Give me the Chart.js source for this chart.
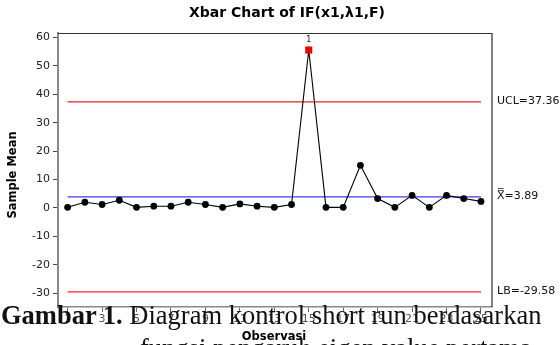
<!DOCTYPE html>
<html>
<head>
<meta charset="utf-8">
<script src="https://cdn.jsdelivr.net/npm/chart.js@4.4.1/dist/chart.umd.min.js"></script>
<style>
  html, body { margin: 0; padding: 0; background: #fff; }
  #wrap { position: relative; width: 560px; height: 345px; overflow: hidden; }
  canvas { position: absolute; left: 0; top: 0; }
  .cap { position: absolute; font-family: "Liberation Serif", "Times New Roman", serif; font-size: 26.5px; line-height: 1; color: #111; white-space: nowrap; }
</style>
</head>
<body>
<div id="wrap">
  <canvas id="myChart" width="560" height="345"></canvas>
  <div class="cap" id="cap1" style="left:1px; top:302px;"><b>Gambar 1.</b> Diagram kontrol short run berdasarkan</div>
  <div class="cap" id="cap2" style="left:140px; top:334.5px;">fungsi pengaruh eigen value pertama</div>
</div>
<script>
// dados
var observasi = [1, 2, 3, 4, 5, 6, 7, 8, 9, 10, 11, 12, 13, 14, 15, 16, 17, 18, 19, 20, 21, 22, 23, 24, 25];
var sample_mean = [0.2, 2.0, 1.2, 2.7, 0.2, 0.6, 0.6, 2.0, 1.2, 0.2, 1.4, 0.6, 0.2, 1.2, 55.6, 0.2, 0.2, 15.0, 3.3, 0.2, 4.4, 0.2, 4.4, 3.3, 2.3];
var limites_nomes = ['UCL', 'X\u033F', 'LB'];
var limites_valores = [37.36, 3.89, -29.58];
var limites_cores = ['#e8222a', '#3a3af0', '#f0262e'];
var fora_controle = [15];
var y_ticks = [-30, -20, -10, 0, 10, 20, 30, 40, 50, 60];
var x_ticks = [1, 3, 5, 7, 9, 11, 13, 15, 17, 19, 21, 23, 25];

document.addEventListener("DOMContentLoaded", function () {

    var pontos = observasi.map(function (x, i) { return { x: x, y: sample_mean[i] }; });
    var estilos = observasi.map(function (x) { return fora_controle.indexOf(x) >= 0 ? 'rect' : 'circle'; });
    var raios = observasi.map(function (x) { return fora_controle.indexOf(x) >= 0 ? 5 : 3.4; });
    var cores = observasi.map(function (x) { return fora_controle.indexOf(x) >= 0 ? '#f00000' : '#000'; });

    var datasets = [{
        data: pontos,
        borderColor: '#000',
        borderWidth: 1.1,
        pointStyle: estilos,
        pointRadius: raios,
        pointBackgroundColor: cores,
        pointBorderColor: cores,
        pointBorderWidth: 0,
        tension: 0
    }];
    limites_valores.forEach(function (v, i) {
        datasets.push({
            data: [{ x: observasi[0], y: v }, { x: observasi[observasi.length - 1], y: v }],
            borderColor: limites_cores[i],
            borderWidth: 1.2,
            pointRadius: 0
        });
    });

    var textos = {
        id: 'textos',
        afterDraw: function (chart) {
            var ctx = chart.ctx;
            var a = chart.chartArea;
            var xs = chart.scales.x, ys = chart.scales.y;
            ctx.save();
            // moldura superior e direita
            ctx.strokeStyle = '#333';
            ctx.lineWidth = 1;
            ctx.beginPath();
            ctx.moveTo(a.left, a.top + 0.5);
            ctx.lineTo(a.right, a.top + 0.5);
            ctx.stroke();
            ctx.strokeStyle = '#555';
            ctx.lineWidth = 1.5;
            ctx.beginPath();
            ctx.moveTo(a.right, a.top);
            ctx.lineTo(a.right, a.bottom);
            ctx.stroke();

            ctx.fillStyle = '#000';
            ctx.font = 'bold 14px "DejaVu Sans"';
            ctx.textAlign = 'center';
            ctx.textBaseline = 'middle';
            ctx.fillText('Xbar Chart of IF(x1,\u03BB1,F)', 287, 13);

            ctx.font = 'bold 11.5px "DejaVu Sans"';
            ctx.fillText('Observasi', 274, 337);
            ctx.save();
            ctx.translate(13, 175);
            ctx.rotate(-Math.PI / 2);
            ctx.fillText('Sample Mean', 0, 0);
            ctx.restore();

            ctx.font = '11px "DejaVu Sans"';
            ctx.textAlign = 'left';
            ctx.fillStyle = '#111';
            limites_valores.forEach(function (v, i) {
                ctx.fillText(limites_nomes[i] + '=' + v.toFixed(2), a.right + 5, ys.getPixelForValue(v) - 1);
            });

            ctx.font = '8px "DejaVu Sans"';
            ctx.textAlign = 'center';
            fora_controle.forEach(function (x) {
                ctx.fillText('1', xs.getPixelForValue(x), ys.getPixelForValue(sample_mean[x - 1]) - 10);
            });
            ctx.restore();
        }
    };

    var ctx = document.getElementById('myChart').getContext('2d');
    var myChart = new Chart(ctx, {
        type: 'line',
        data: { datasets: datasets },
        options: {
            responsive: false,
            animation: false,
            devicePixelRatio: 1,
            layout: { padding: { top: 33, right: 68, left: 0, bottom: 0 } },
            plugins: { legend: { display: false }, tooltip: { enabled: false } },
            scales: {
                x: {
                    type: 'linear',
                    min: 0.44,
                    max: 25.64,
                    afterBuildTicks: function (scale) { scale.ticks = x_ticks.map(function (v) { return { value: v }; }); },
                    afterFit: function (scale) { scale.height = 38; },
                    grid: { drawOnChartArea: false, tickLength: 5, tickColor: '#666' },
                    border: { color: '#888', width: 1.5 },
                    ticks: { font: { family: 'DejaVu Sans', size: 11 }, color: '#555', padding: 1, maxRotation: 0, autoSkip: false }
                },
                y: {
                    min: -34.9,
                    max: 61.6,
                    afterBuildTicks: function (scale) { scale.ticks = y_ticks.map(function (v) { return { value: v }; }); },
                    afterFit: function (scale) { scale.width = 58; },
                    grid: { drawOnChartArea: false, tickLength: 5, tickColor: '#444' },
                    border: { color: '#888', width: 2 },
                    ticks: { font: { family: 'DejaVu Sans', size: 11 }, color: '#222', padding: 3 }
                }
            }
        },
        plugins: [textos]
    });
});
</script>
</body>
</html>
